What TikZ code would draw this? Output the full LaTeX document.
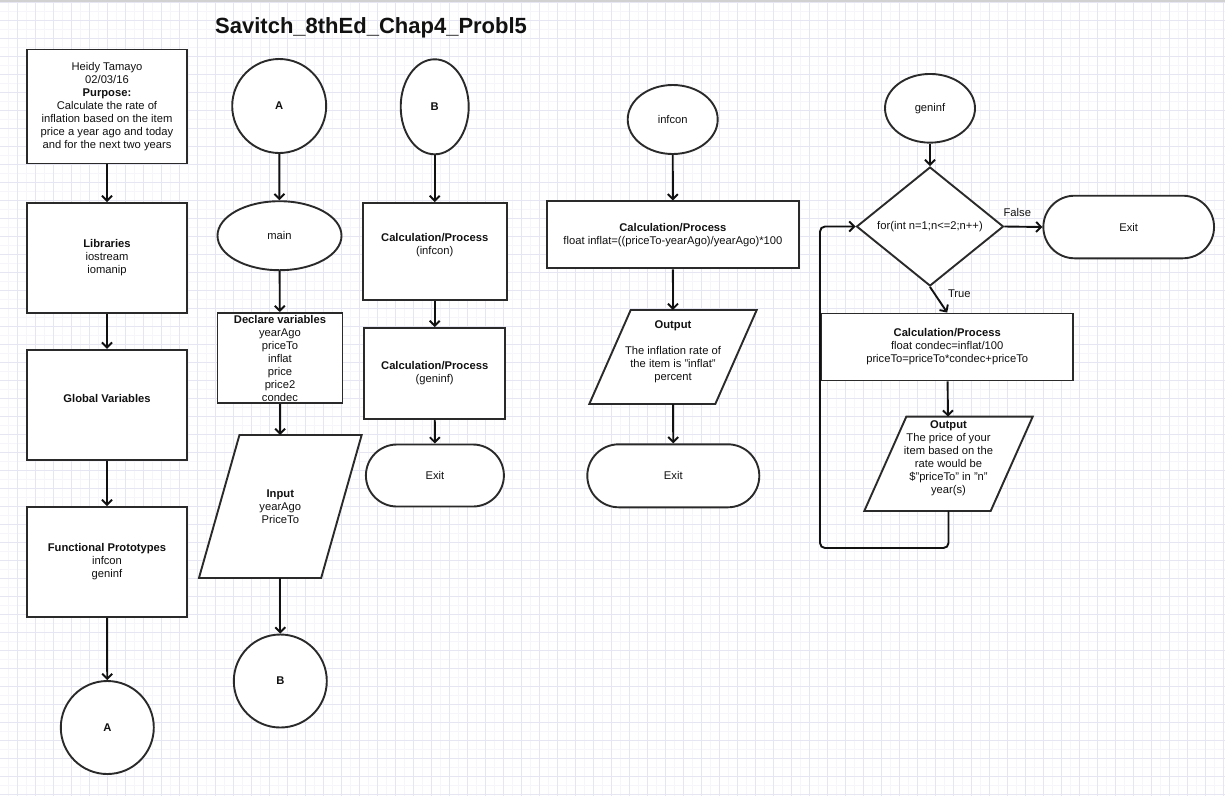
\documentclass[tikz,border=0pt]{standalone}
\usepackage{fontspec}
\setmainfont{Liberation Sans}
\usetikzlibrary{shapes.geometric,shapes.misc,arrows.meta,calc}
\pgfdeclarelayer{grid}
\pgfdeclarelayer{bg}
\pgfsetlayers{grid,bg,main}
\definecolor{lineclr}{HTML}{2A2A2A}
\definecolor{arrclr}{HTML}{111111}
\definecolor{txtclr}{HTML}{111111}
\definecolor{majclr}{RGB}{230,230,242}
\definecolor{minclr}{RGB}{245,245,250}
\tikzset{
  txt/.style={font=\fontsize{11.2}{13}\selectfont, align=center, text=txtclr, inner sep=0pt},
  shapeline/.style={draw=lineclr, line width=1.9pt, fill=white},
  shp/.style={shapeline, txt},
  box/.style={shp, rectangle},
  oval/.style={shp, ellipse},
  term/.style={shp, rounded rectangle},
  dia/.style={shp, diamond},
  paranode/.style={txt, outer sep=0pt},
  arr/.style={draw=arrclr, line width=1.9pt, -{Straight Barb[length=5pt,width=10pt]}},
  majorgrid/.style={draw=majclr, line width=1pt},
  minorgrid/.style={draw=minclr, line width=0.8pt},
}
\newcommand\paraDraw[2]{%
  \begin{pgfonlayer}{bg}
  \draw[shapeline] ($(#1.north west)+(#2,0)$) -- (#1.north east) -- ($(#1.south east)-(#2,0)$) -- (#1.south west) -- cycle;
  \end{pgfonlayer}}
\begin{document}
\begin{tikzpicture}[x=1pt,y=-1pt]
\useasboundingbox (0,0) rectangle (1225,796);
\begin{pgfonlayer}{grid}
  \fill[white] (0,0) rectangle (1225,796);
  \foreach \i in {0,...,68} \draw[minorgrid] ({8.3+18*\i},0) -- ++(0,796);
  \foreach \j in {0,...,44} \draw[minorgrid] (0,{11.7+18*\j}) -- ++(1225,0);
  \foreach \i in {0,...,68} \draw[majorgrid] ({17.3+18*\i},0) -- ++(0,796);
  \foreach \j in {0,...,44} \draw[majorgrid] (0,{2.7+18*\j}) -- ++(1225,0);
  \draw[draw=black!18, line width=2pt] (0,1) -- (1225,1);
\end{pgfonlayer}

% title
\node[anchor=base west, inner sep=0pt, text=txtclr, font=\fontsize{22}{26}\selectfont\bfseries] (title) at (215,33.5) {Savitch\_8thEd\_Chap4\_Probl5};

% column 1
\node[box, minimum width=160pt, minimum height=114pt] (info) at (107,106.5)
  {Heidy Tamayo\\02/03/16\\\textbf{Purpose:}\\Calculate the rate of\\inflation based on the item\\price a year ago and today\\and for the next two years};
\node[box, minimum width=160pt, minimum height=110pt] (lib) at (107,258) {\textbf{Libraries}\\iostream\\iomanip};
\node[box, minimum width=160pt, minimum height=110pt] (glob) at (107,404.7) {};
\node[txt] (globt) at (107,398.5) {\textbf{Global Variables}};
\node[box, minimum width=160pt, minimum height=110pt] (func) at (107,562) {\textbf{Functional Prototypes}\\infcon\\geninf};
\node[oval, minimum width=93pt, minimum height=93pt] (A1) at (107.3,727.5) {\textbf{A}};
\draw[arr] (info) -- (lib);
\draw[arr] (lib) -- (glob);
\draw[arr] (glob) -- (func);
\draw[arr] (func) -- (A1);

% column 2
\node[oval, minimum width=94pt, minimum height=94pt] (A2) at (279.2,106) {\textbf{A}};
\node[oval, minimum width=124pt, minimum height=69pt] (main) at (279.5,235.7) {main};
\node[box, minimum width=125pt, minimum height=90pt] (decl) at (280,358)
  {\textbf{Declare variables}\\yearAgo\\priceTo\\inflat\\price\\price2\\condec};
\node[paranode, minimum width=162.7pt, minimum height=143pt] (inp) at (280.3,506.5) {\textbf{Input}\\yearAgo\\PriceTo};
\paraDraw{inp}{40.5}
\node[oval, minimum width=93pt, minimum height=93pt] (B2) at (280.3,681) {\textbf{B}};
\draw[arr] (A2) -- (main);
\draw[arr] (main) -- (decl);
\draw[arr] (decl) -- (inp);
\draw[arr] (inp) -- (B2);

% column 3
\node[oval, minimum width=68pt, minimum height=95pt] (B3) at (434.7,106.8) {\textbf{B}};
\node[box, minimum width=144pt, minimum height=97pt] (calc1) at (434.7,251.5) {};
\node[txt] (calc1t) at (434.7,245.5) {\textbf{Calculation/Process}\\(infcon)};
\node[box, minimum width=141pt, minimum height=91pt] (calc2) at (434.7,373.5) {\textbf{Calculation/Process}\\(geninf)};
\node[term, minimum width=138pt, minimum height=62pt] (exit1) at (434.9,475.5) {Exit};
\draw[arr] (B3) -- (calc1);
\draw[arr] (calc1) -- (calc2);
\draw[arr] (calc2) -- (exit1);

% column 4
\node[oval, minimum width=90pt, minimum height=69pt] (infcon) at (672.7,119.5) {infcon};
\node[box, minimum width=252pt, minimum height=67pt] (calc3) at (672.9,234.9)
  {\textbf{Calculation/Process}\\float inflat=((priceTo-yearAgo)/yearAgo)*100};
\node[paranode, minimum width=167.4pt, minimum height=94pt] (out1) at (673,357) {};
\paraDraw{out1}{41.4}
\node[txt] (out1t) at (673,351.3) {\textbf{Output}\\[13pt]The inflation rate of\\the item is "inflat"\\percent};
\node[term, minimum width=172pt, minimum height=63pt] (exit2) at (673.3,475.8) {Exit};
\draw[arr] (infcon) -- (calc3);
\draw[arr] (calc3) -- (out1);
\draw[arr] (out1) -- (exit2);

% column 5
\node[oval, minimum width=90pt, minimum height=68.7pt] (geninf) at (930,108.3) {geninf};
\node[dia, minimum width=147pt, minimum height=119pt] (loop) at (930,226.5) {for(int n=1;n<=2;n++)};
\node[term, minimum width=170.7pt, minimum height=62.6pt] (exit3) at (1128.7,227) {Exit};
\node[box, minimum width=252pt, minimum height=67pt] (calc4) at (947.2,347)
  {\textbf{Calculation/Process}\\float condec=inflat/100\\priceTo=priceTo*condec+priceTo};
\node[paranode, minimum width=168.4pt, minimum height=94.3pt] (out2) at (948.5,463.8) {};
\paraDraw{out2}{42}
\node[txt] (out2t) at (948.5,457.8) {\textbf{Output}\\The price of your\\item based on the\\rate would be\\\$"priceTo" in "n"\\year(s)};
\coordinate (lp) at (820,548);
\node[txt] (false) at (1017.3,212.3) {False};
\node[txt] (true) at (959.3,293.3) {True};
\draw[arr] (geninf) -- (loop);
\draw[arr] (loop.east) -- (exit3.west);
\draw[arr] (loop.south) -- (calc4.north);
\draw[arr] (calc4) -- (out2);
\draw[arr, rounded corners=5pt] (out2.south) |- (lp) |- (loop.west);
\end{tikzpicture}
\end{document}
